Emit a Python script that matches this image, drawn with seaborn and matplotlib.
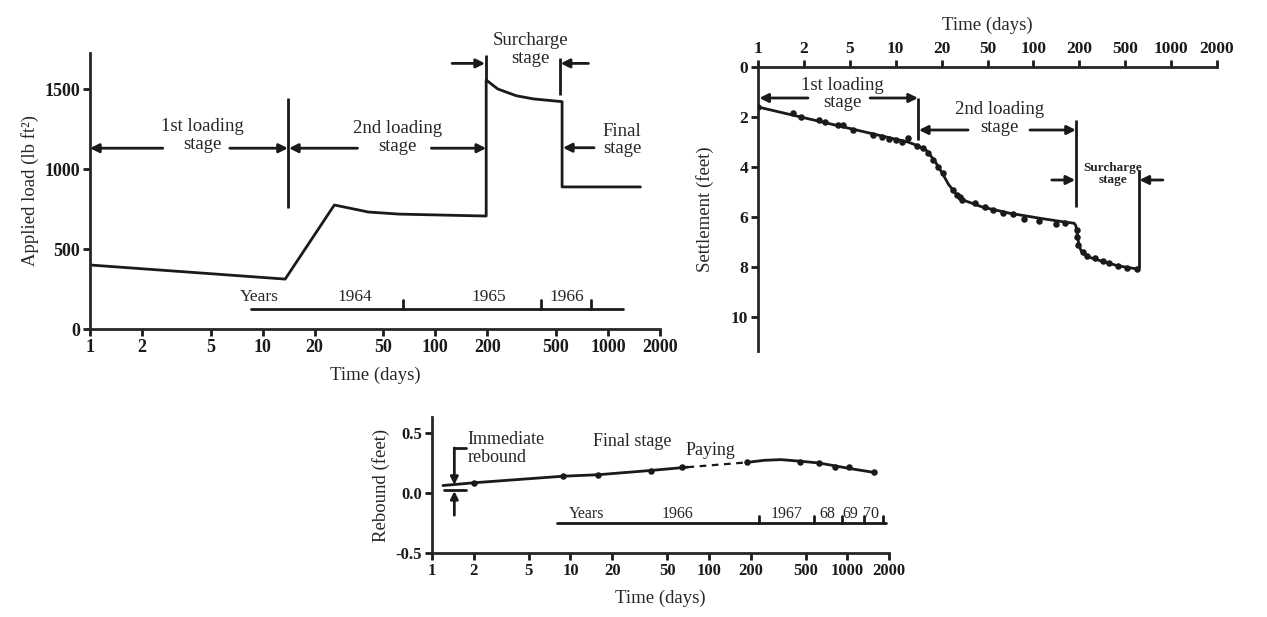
import numpy as np
import pandas as pd
import matplotlib
matplotlib.use("Agg")
import matplotlib.pyplot as plt
import seaborn as sns

# ---------------- data ----------------
# Panel 1: applied load history
load_days = [1, 13.5, 26, 41, 62, 197, 197, 230, 294, 370, 542, 542, 1540]
load_vals = [400, 312, 775, 731, 718, 706, 1556, 1500, 1458, 1438, 1421, 888, 888]

# Panel 2: settlement observations and fitted curve
settle_days = [1.0, 1.69, 1.92, 2.7, 3.05, 3.95, 4.37, 5.25, 7.1, 8.1, 9.0, 10.05, 11.0, 12.0,
               13.8, 15.1, 16.3, 17.6, 18.9, 20.6, 25.1, 27.0, 28.9, 30.1, 39, 47.6, 54.3,
               63.2, 73.5, 86.8, 108.8, 140.6, 161, 193, 193, 196, 215, 233, 273, 321, 362,
               433, 514, 598]
settle_vals = [1.6, 1.85, 2.0, 2.1, 2.2, 2.3, 2.3, 2.52, 2.72, 2.8, 2.88, 2.92, 2.99, 2.83,
               3.16, 3.24, 3.45, 3.72, 4.0, 4.25, 4.92, 5.12, 5.2, 5.32, 5.45, 5.6, 5.72,
               5.83, 5.88, 6.08, 6.15, 6.28, 6.24, 6.52, 6.8, 7.12, 7.39, 7.56, 7.64, 7.76, 7.83,
               7.96, 8.04, 8.08]
curve_days = [1, 12, 14, 16, 18, 20, 23, 27, 32, 45, 70, 110, 160, 185, 190, 194, 198, 205,
              215, 240, 320, 430, 600]
curve_vals = [1.6, 3.0, 3.15, 3.35, 3.75, 4.2, 4.7, 5.1, 5.35, 5.6, 5.85, 6.05, 6.2, 6.25,
              6.35, 6.7, 7.05, 7.3, 7.45, 7.6, 7.78, 7.95, 8.08]

# Panel 3: rebound
rebound_days = [2, 8.9, 15.8, 38.4, 63.6, 189, 454, 621, 817, 1024, 1566]
rebound_vals = [0.087, 0.143, 0.146, 0.187, 0.213, 0.255, 0.258, 0.25, 0.216, 0.216, 0.171]
reb_solid1_days = [1.2, 2, 8.9, 15.8, 38.4, 70]
reb_solid1_vals = [0.062, 0.085, 0.14, 0.152, 0.188, 0.215]
reb_dash_days = [70, 189]
reb_dash_vals = [0.215, 0.255]
reb_solid2_days = [189, 250, 330, 454, 621, 817, 1024, 1566]
reb_solid2_vals = [0.255, 0.272, 0.278, 0.265, 0.25, 0.226, 0.205, 0.171]

time_ticks = [1, 2, 5, 10, 20, 50, 100, 200, 500, 1000, 2000]
time_labels = [str(t) for t in time_ticks]
load_ticks = [0, 500, 1000, 1500]
settle_ticks = [0, 2, 4, 6, 8, 10]
rebound_ticks = [-0.5, 0.0, 0.5]
rebound_labels = ["-0.5", "0.0", "0.5"]

years1_labels = ["Years", "1964", "1965", "1966"]
years3_labels = ["Years", "1966", "1967", "68", "69", "70"]

# ---------------- style ----------------
sns.set_theme(style="ticks")
plt.rcParams["font.family"] = ["Liberation Serif", "DejaVu Serif"]
plt.rcParams["axes.linewidth"] = 2

W, H = 1267, 617
fig = plt.figure(figsize=(W / 100, H / 100), dpi=100)


def px_axes(x0, y0, x1, y1):
    return fig.add_axes([x0 / W, 1 - y1 / H, (x1 - x0) / W, (y1 - y0) / H])


LW = 2
AFS = 13.5    # annotation font size
LFS = 13.5    # axis label font size


def arrow(ax, xs, ys, xe, ye, ms=13, lw=2):
    ax.annotate("", xy=(xe, ye), xytext=(xs, ys),
                arrowprops=dict(arrowstyle="-|>", color="k", lw=lw, mutation_scale=ms,
                                shrinkA=0, shrinkB=0), annotation_clip=False)


def vline(ax, x, y0, y1, lw=2):
    ax.plot([x, x], [y0, y1], color="k", lw=lw, clip_on=False, solid_capstyle="butt")


def style_ticks(ax, fs):
    ax.tick_params(axis="both", direction="out", length=5, width=2, colors="k",
                   labelsize=fs, pad=2)
    ax.minorticks_off()
    for lab in ax.get_xticklabels() + ax.get_yticklabels():
        lab.set_fontweight("bold")


# ================= Panel 1 =================
ax1 = px_axes(90, 53, 660, 329)
df1 = pd.DataFrame({"days": load_days, "load": load_vals})
sns.lineplot(data=df1, x="days", y="load", sort=False, estimator=None, color="k", lw=LW, ax=ax1)
ax1.set_xscale("log")
ax1.set_xlim(1, 2000)
ax1.set_ylim(0, 1725)
ax1.set_xticks(time_ticks)
ax1.set_xticklabels(time_labels)
ax1.set_yticks(load_ticks)
ax1.set_yticklabels([str(t) for t in load_ticks])
sns.despine(ax=ax1)
style_ticks(ax1, 13)
ax1.set_xlabel("Time (days)", fontsize=LFS, labelpad=8)
ax1.set_ylabel("Applied load (lb ft²)", fontsize=LFS, labelpad=4)

# stage annotations
vline(ax1, 14, 756, 1444)
arrow(ax1, 2.64, 1130, 1.0, 1130)
arrow(ax1, 6.45, 1130, 14, 1130)
ax1.text(4.5, 1210, "1st loading\nstage", ha="center", va="center", fontsize=AFS, linespacing=1.05)
arrow(ax1, 35.4, 1130, 14.2, 1130)
arrow(ax1, 94.8, 1130, 197, 1130)
ax1.text(60.3, 1195, "2nd loading\nstage", ha="center", va="center", fontsize=AFS, linespacing=1.05)
vline(ax1, 197, 1556, 1712)
vline(ax1, 526, 1462, 1692)
arrow(ax1, 125, 1660, 194, 1660)
arrow(ax1, 770, 1660, 532, 1660)
ax1.text(357, 1745, "Surcharge\nstage", ha="center", va="center", fontsize=AFS, linespacing=1.05)
arrow(ax1, 830, 1133, 548, 1133)
ax1.text(1210, 1182, "Final\nstage", ha="center", va="center", fontsize=AFS, linespacing=1.05)

# years bar
ax1.plot([8.6, 1222], [125, 125], color="k", lw=LW)
for t in [64.9, 407, 796]:
    ax1.plot([t, t], [125, 180], color="k", lw=LW)
for lab, x in zip(years1_labels, [9.6, 34, 205, 580]):
    ax1.text(x, 200, lab, ha="center", va="center", fontsize=12.5)

# ================= Panel 2 =================
tick_arr = np.array(time_ticks, dtype=float)
log_ticks = np.log10(tick_arr)
idx = np.arange(len(tick_arr), dtype=float)


def fwd(x):
    x = np.asarray(x, dtype=float)
    return np.interp(np.log10(np.clip(x, 1e-12, None)), log_ticks, idx)


def inv(p):
    p = np.asarray(p, dtype=float)
    return 10 ** np.interp(p, idx, log_ticks)


ax2 = px_axes(758, 67, 1217, 351)
df2c = pd.DataFrame({"days": curve_days, "settle": curve_vals})
df2p = pd.DataFrame({"days": settle_days, "settle": settle_vals})
sns.lineplot(data=df2c, x="days", y="settle", sort=False, estimator=None, color="k", lw=LW, ax=ax2)
sns.scatterplot(data=df2p, x="days", y="settle", color="k", s=22, edgecolor="k", linewidth=0,
                ax=ax2, zorder=3)
ax2.set_xscale("function", functions=(fwd, inv))
ax2.set_xlim(1, 2000)
ax2.set_ylim(11.36, 0)
ax2.xaxis.tick_top()
ax2.xaxis.set_label_position("top")
ax2.set_xticks(time_ticks)
ax2.set_xticklabels(time_labels)
ax2.set_yticks(settle_ticks)
ax2.set_yticklabels([str(t) for t in settle_ticks])
for s in ["right", "bottom"]:
    ax2.spines[s].set_visible(False)
style_ticks(ax2, 12.5)
ax2.set_xlabel("Time (days)", fontsize=LFS, labelpad=8)
ax2.set_ylabel("Settlement (feet)", fontsize=LFS, labelpad=12)

vline(ax2, 14, 1.24, 2.93)
arrow(ax2, 2.17, 1.24, 1.02, 1.24)
arrow(ax2, 6.8, 1.24, 14, 1.24)
ax2.text(4.3, 1.08, "1st loading\nstage", ha="center", va="center", fontsize=AFS, linespacing=1.05)
vline(ax2, 190, 2.12, 5.6)
arrow(ax2, 33.9, 2.52, 14.2, 2.52)
arrow(ax2, 95, 2.52, 190, 2.52)
ax2.text(60.3, 2.05, "2nd loading\nstage", ha="center", va="center", fontsize=AFS, linespacing=1.05)
vline(ax2, 615, 4.12, 8.02)
arrow(ax2, 132, 4.52, 188, 4.52)
arrow(ax2, 883, 4.52, 620, 4.52)
ax2.text(390, 4.28, "Surcharge\nstage", ha="center", va="center", fontsize=9.5,
         fontweight="bold", linespacing=1.05)

# ================= Panel 3 =================
ax3 = px_axes(432, 417, 889, 553)
sns.lineplot(x=reb_solid1_days, y=reb_solid1_vals, color="k", lw=LW, sort=False, estimator=None, ax=ax3)
sns.lineplot(x=reb_dash_days, y=reb_dash_vals, color="k", lw=1.6, sort=False, estimator=None,
             ax=ax3, linestyle=(0, (3, 2.5)))
sns.lineplot(x=reb_solid2_days, y=reb_solid2_vals, color="k", lw=LW, sort=False, estimator=None, ax=ax3)
sns.scatterplot(x=rebound_days, y=rebound_vals, color="k", s=22, linewidth=0, ax=ax3, zorder=3)
ax3.set_xscale("log")
ax3.set_xlim(1, 2000)
ax3.set_ylim(-0.5, 0.633)
ax3.set_xticks(time_ticks)
ax3.set_xticklabels(time_labels)
ax3.set_yticks(rebound_ticks)
ax3.set_yticklabels(rebound_labels)
sns.despine(ax=ax3)
style_ticks(ax3, 12)
ax3.set_xlabel("Time (days)", fontsize=LFS, labelpad=8)
ax3.set_ylabel("Rebound (feet)", fontsize=LFS, labelpad=4)

# immediate rebound marker
ax3.plot([1.22, 1.75], [0.022, 0.022], color="k", lw=LW)
ax3.plot([1.45, 1.77], [0.375, 0.375], color="k", lw=LW)
arrow(ax3, 1.45, 0.375, 1.45, 0.068, ms=11)
arrow(ax3, 1.45, -0.185, 1.45, 0.016, ms=11)
ax3.text(1.8, 0.37, "Immediate\nrebound", ha="left", va="center", fontsize=13, linespacing=1.05)
ax3.text(28, 0.43, "Final stage", ha="center", va="center", fontsize=13)
ax3.text(103, 0.35, "Paying", ha="center", va="center", fontsize=13)

# years bar
ax3.plot([8.0, 1893], [-0.252, -0.252], color="k", lw=LW)
for t in [232, 574, 920, 1330, 1800]:
    ax3.plot([t, t], [-0.252, -0.19], color="k", lw=LW)
for lab, x in zip(years3_labels, [13.1, 59.4, 365, 715, 1052, 1472]):
    ax3.text(x, -0.175, lab, ha="center", va="center", fontsize=11.5)

fig.savefig("out.png", dpi=100)
